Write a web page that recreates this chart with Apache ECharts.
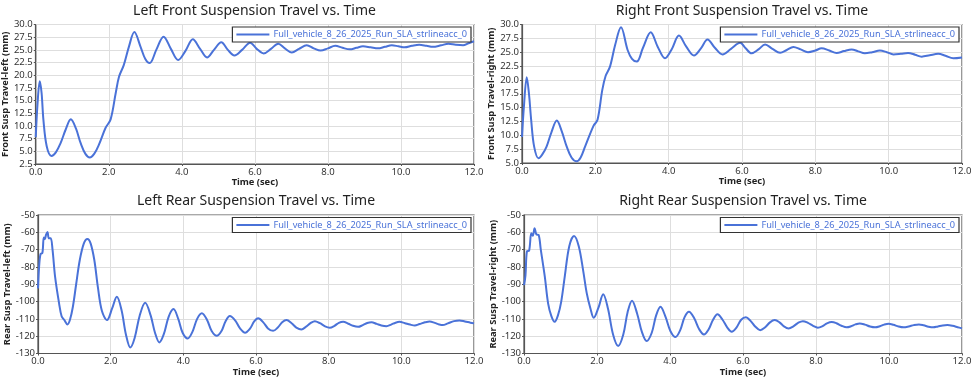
<!DOCTYPE html>
<html><head><meta charset="utf-8">
<script src="https://cdn.jsdelivr.net/npm/echarts@6/dist/echarts.min.js"></script>
<style>html,body{margin:0;padding:0;background:#fff}#c{width:975px;height:381px}</style>
</head><body><div id="c"></div>
<script>
const seriesName = 'Full_vehicle_8_26_2025_Run_SLA_strlineacc_0';
const titles = ['Left Front Suspension Travel vs. Time','Right Front Suspension Travel vs. Time','Left Rear Suspension Travel vs. Time','Right Rear Suspension Travel vs. Time'];
const yNames = ['Front Susp Travel-left (mm)','Front Susp Travel-right (mm)','Rear Susp Travel-left (mm)','Rear Susp Travel-right (mm)'];
const xName = 'Time (sec)';

const lfTime = [0,0.05,0.11,0.16,0.21,0.3,0.43,0.55,0.68,0.82,0.96,1.1,1.23,1.36,1.48,1.6,1.73,1.91,2.05,2.19,2.28,2.41,2.55,2.7,2.87,3.0,3.12,3.3,3.5,3.7,3.9,4.1,4.3,4.5,4.69,4.88,5.08,5.26,5.44,5.65,5.87,6.05,6.24,6.44,6.64,6.82,7.01,7.21,7.42,7.61,7.8,8.0,8.2,8.4,8.6,8.78,8.96,9.17,9.37,9.56,9.75,9.93,10.1,10.3,10.5,10.7,10.87,11.1,11.3,11.5,11.7,11.85,12.0];
const lfTravel = [7.8,14.5,18.8,16.5,11.2,6.0,4.1,4.8,6.6,9.3,11.3,9.5,6.6,4.5,3.8,4.5,6.3,9.6,11.3,16.5,19.7,22.0,25.6,28.5,25.6,23.2,22.4,25.0,27.6,25.2,23.0,24.8,27.1,25.2,23.5,25.0,26.5,25.0,23.9,25.0,26.4,25.2,24.3,25.2,26.2,25.3,24.5,25.2,25.9,25.3,24.85,25.3,25.8,25.4,25.1,25.4,25.7,25.5,25.3,25.6,25.9,25.7,25.5,25.8,26.0,25.8,25.6,25.9,26.2,26.0,25.9,26.3,26.7];

const rfTime = [0,0.05,0.13,0.19,0.25,0.33,0.45,0.55,0.67,0.8,0.95,1.08,1.22,1.35,1.49,1.6,1.72,1.95,2.06,2.19,2.28,2.4,2.54,2.7,2.88,3.0,3.13,3.3,3.51,3.7,3.9,4.08,4.28,4.48,4.69,4.88,5.06,5.26,5.47,5.7,5.95,6.1,6.26,6.45,6.63,6.83,7.04,7.22,7.4,7.6,7.8,8.0,8.17,8.38,8.58,8.78,8.99,9.17,9.35,9.55,9.76,9.95,10.13,10.33,10.53,10.72,10.9,11.12,11.35,11.55,11.76,12.0];
const rfTravel = [9.7,15,20.5,17.5,12.8,8.0,5.85,6.5,7.95,10.5,12.65,10.8,7.95,6.0,5.3,6.0,7.95,11.7,12.8,18.2,20.7,22.4,26.3,29.5,25.4,23.8,23.3,25.8,28.6,26.0,23.9,25.5,28.0,26.0,24.4,25.7,27.3,25.8,24.6,25.6,26.7,25.7,24.8,25.5,26.4,25.6,24.9,25.4,25.95,25.5,25.0,25.3,25.7,25.3,24.85,25.2,25.5,25.15,24.8,25.0,25.3,25.0,24.6,24.7,24.85,24.55,24.2,24.45,24.7,24.35,23.9,24.05];

const lrTime = [0,0.03,0.07,0.12,0.16,0.19,0.22,0.26,0.3,0.35,0.4,0.47,0.58,0.65,0.72,0.81,0.88,0.96,1.05,1.15,1.26,1.36,1.45,1.55,1.65,1.76,1.9,2.04,2.17,2.3,2.42,2.54,2.66,2.8,2.95,3.1,3.22,3.34,3.46,3.6,3.73,3.86,3.98,4.12,4.25,4.38,4.51,4.65,4.78,4.92,5.05,5.16,5.28,5.43,5.56,5.7,5.84,5.95,6.06,6.2,6.33,6.47,6.6,6.72,6.84,6.98,7.11,7.25,7.38,7.5,7.62,7.76,7.9,8.03,8.16,8.28,8.4,8.54,8.67,8.81,8.94,9.06,9.18,9.32,9.45,9.59,9.72,9.84,9.95,10.1,10.24,10.37,10.5,10.65,10.78,10.92,11.04,11.14,11.28,11.45,11.6,11.75,11.9,12.0];
const lrTravel = [-92.4,-80,-72.5,-72,-63,-64,-61.5,-59.8,-63.5,-63.5,-70,-85.6,-101,-108.5,-110.5,-113.2,-110.5,-103,-90,-76,-66.5,-63.9,-66.5,-76,-92,-105.5,-110.7,-104,-97.2,-105,-119,-126.5,-121,-108,-100.7,-108,-118,-123.6,-119,-108.5,-104.3,-110,-118,-121.3,-117.5,-110,-106.8,-110.5,-117,-119.8,-117,-111.5,-108.4,-111,-115.5,-118,-115.5,-111.5,-109.7,-112,-115.5,-116.9,-115,-112,-110.7,-112.5,-115,-116.1,-114.5,-112.5,-111.3,-112.5,-114.3,-115.1,-114,-112.3,-111.7,-112.8,-114,-114.6,-113.6,-112.4,-112,-112.9,-113.8,-114.2,-113.3,-112.2,-111.7,-112.5,-113.3,-113.8,-113,-112,-111.5,-112.3,-113.2,-113.6,-112.6,-111.3,-110.9,-111.5,-112.2,-112.6];

const rrTime = [0,0.04,0.08,0.14,0.2,0.24,0.29,0.34,0.4,0.46,0.57,0.66,0.75,0.84,0.93,1.02,1.12,1.24,1.37,1.5,1.62,1.72,1.82,1.91,2.04,2.17,2.3,2.44,2.58,2.72,2.84,2.96,3.1,3.23,3.36,3.5,3.62,3.74,3.88,4.01,4.15,4.28,4.4,4.52,4.66,4.8,4.93,5.06,5.18,5.3,5.44,5.57,5.69,5.82,5.95,6.08,6.2,6.34,6.47,6.6,6.74,6.87,7.0,7.12,7.25,7.38,7.51,7.64,7.78,7.92,8.05,8.18,8.3,8.43,8.56,8.7,8.84,8.96,9.08,9.2,9.34,9.48,9.62,9.75,9.87,9.99,10.12,10.26,10.4,10.54,10.68,10.82,10.95,11.08,11.21,11.34,11.47,11.6,11.74,11.88,12.0];
const rrTravel = [-90.5,-85,-71,-70.6,-60.6,-62,-57.7,-61.2,-61.5,-70,-85.6,-101,-108.4,-111.7,-108,-100,-85,-68,-62.1,-68,-82,-95.3,-104,-109.4,-103.5,-95.8,-104,-119,-125.7,-119,-106,-99.5,-107,-117.5,-122.8,-118,-108,-103,-109,-117,-120.5,-116.5,-109,-105.9,-109.5,-116,-119,-116,-110.5,-107.4,-110.5,-115,-117.4,-115,-110.5,-109.1,-111,-114.5,-116.5,-115,-112,-110.7,-112,-114.3,-115.5,-114.3,-112.3,-111.3,-112.3,-114,-115.1,-114.2,-112.6,-111.8,-112.5,-114,-114.9,-114.3,-113.2,-112.6,-113.3,-114.4,-114.9,-114.3,-113.3,-112.8,-113.4,-114.4,-114.9,-114.4,-113.6,-113.2,-113.7,-114.5,-114.9,-114.4,-113.8,-113.6,-114,-114.8,-115.5];

const xTicks = {min: 0, max: 12, interval: 2};
const frontLeftY = {min: 2.5, max: 30, interval: 2.5};
const frontRightY = {min: 5, max: 30, interval: 2.5};
const rearY = {min: -130, max: -50, interval: 10};

const FONT = 'Noto Sans';
const LINE = '#4a72d8';
const grids = [
  {left: 35, top: 24.5, width: 439, height: 139.5},
  {left: 522, top: 24.5, width: 440, height: 138.5},
  {left: 38, top: 215, width: 436, height: 138.5},
  {left: 524, top: 215, width: 438, height: 138.5}
];
const yScales = [frontLeftY, frontRightY, rearY, rearY];
const yDecimals = [1, 1, 0, 0];
const yGaps = [23, 22, 26, 21];
const titleTops = [2.5, 2.5, 192.5, 192.5];
const dataSets = [[lfTime, lfTravel],[rfTime, rfTravel],[lrTime, lrTravel],[rrTime, rrTravel]];

const chart = echarts.init(document.getElementById('c'), null, {renderer: 'canvas'});
const option = {
  animation: false,
  textStyle: {fontFamily: FONT},
  title: grids.map((g, i) => ({
    text: titles[i], left: g.left + g.width / 2, top: titleTops[i], textAlign: 'center', padding: 0,
    textStyle: {fontFamily: FONT, fontSize: 14, fontWeight: 'normal', color: '#222', lineHeight: 17}
  })),
  legend: grids.map((g, i) => ({
    data: [seriesName], right: 975 - (g.left + g.width) + 3, top: g.top + 2.5,
    orient: 'horizontal', icon: 'rect', itemWidth: 33, itemHeight: 2, itemGap: 4,
    padding: [3, 4, 3, 4], backgroundColor: '#fff', borderColor: '#333', borderWidth: 1.2, borderRadius: 0,
    textStyle: {fontFamily: FONT, fontSize: 9.2, color: LINE, padding: [0, 0, 0, -1]},
    selectedMode: false
  })),
  grid: grids.map(g => ({left: g.left, top: g.top, width: g.width, height: g.height, show: true, borderColor: '#555', borderWidth: 1.2, backgroundColor: '#fff', containLabel: false})),
  xAxis: grids.map((g, i) => ({
    type: 'value', gridIndex: i, min: xTicks.min, max: xTicks.max, interval: xTicks.interval,
    name: xName, nameLocation: 'middle', nameGap: 13,
    nameTextStyle: {fontFamily: FONT, fontSize: 9.3, fontWeight: 'bold', color: '#222'},
    axisLine: {show: true, lineStyle: {color: '#555', width: 1.2}},
    axisTick: {show: true, length: 2, lineStyle: {color: '#555'}},
    axisLabel: {fontFamily: FONT, fontSize: 9.5, color: '#333', margin: 3, formatter: v => v.toFixed(1)},
    splitLine: {show: true, lineStyle: {color: '#dedede', width: 1}}
  })),
  yAxis: grids.map((g, i) => ({
    type: 'value', gridIndex: i, min: yScales[i].min, max: yScales[i].max, interval: yScales[i].interval,
    name: yNames[i], nameLocation: 'middle', nameGap: yGaps[i], nameRotate: 90,
    nameTextStyle: {fontFamily: FONT, fontSize: 9.3, fontWeight: 'bold', color: '#222'},
    axisLine: {show: true, lineStyle: {color: '#555', width: 1.2}},
    axisTick: {show: true, length: 2, lineStyle: {color: '#555'}},
    axisLabel: {fontFamily: FONT, fontSize: 9.5, color: '#333', margin: 3, formatter: v => v.toFixed(yDecimals[i])},
    splitLine: {show: true, lineStyle: {color: '#dedede', width: 1}}
  })),
  series: dataSets.map((d, i) => ({
    name: seriesName, type: 'line', xAxisIndex: i, yAxisIndex: i,
    data: d[0].map((t, k) => [t, d[1][k]]),
    smooth: 0.35, showSymbol: false, symbol: 'none',
    lineStyle: {color: LINE, width: 2}, itemStyle: {color: LINE}
  }))
};
chart.setOption(option);
</script>
</body></html>
